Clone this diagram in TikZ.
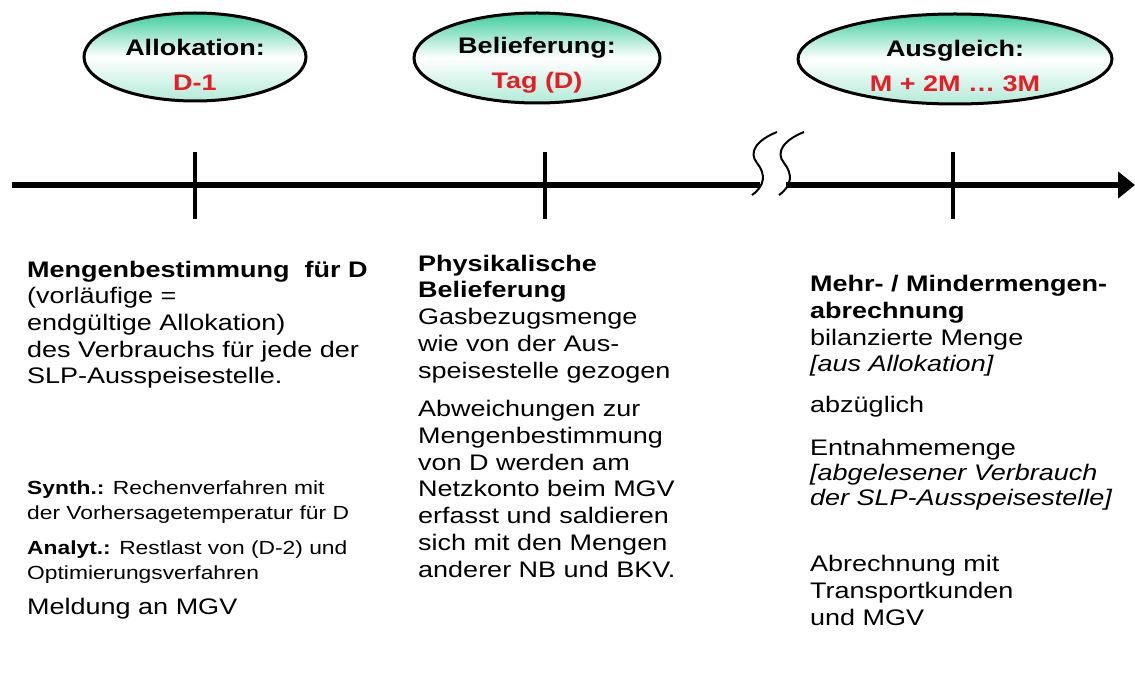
\documentclass[tikz,border=0pt]{standalone}
\usepackage{fontspec}
\setmainfont{Liberation Sans}[FakeStretch=1.2]
\usetikzlibrary{shapes.geometric,arrows.meta}
\definecolor{mint}{RGB}{60,205,155}
\definecolor{hred}{RGB}{232,28,36}
\begin{document}
\begin{tikzpicture}[x=1pt,y=-1pt,
  phase/.style={ellipse, draw=black, line width=3pt, inner sep=0pt,
    top color=mint, bottom color=mint!40, middle color=white},
  phasetext/.style={align=center, inner sep=0pt, font=\fontsize{22.5}{35}\selectfont\bfseries},
  para/.style={anchor=base west, align=left, inner sep=0pt, font=\fontsize{22.5}{26.7}\selectfont},
  small/.style={anchor=base west, align=left, inner sep=0pt, font=\fontsize{19}{25}\selectfont},
  axisline/.style={line width=6pt},
  tickline/.style={line width=3.5pt},
  brk/.style={line width=2pt}]
\useasboundingbox (0,0) rectangle (1135,700);

% phases
\node[phase, minimum width=222pt, minimum height=88pt] (allok) at (195,57) {};
\node[phasetext] (allokT) at (195,65) {Allokation:\\\textcolor{hred}{D-1}};
\node[phase, minimum width=246pt, minimum height=90pt] (belief) at (537,58) {};
\node[phasetext] (beliefT) at (537,65) {Belieferung:\\\textcolor{hred}{Tag (D)}};
\node[phase, minimum width=314pt, minimum height=90pt] (ausgl) at (955,59) {};
\node[phasetext] (ausglT) at (955,66) {Ausgleich:\\\textcolor{hred}{M + 2M \dots\ 3M}};

% timeline
\coordinate (L) at (12,185);
\coordinate (B1) at (760,185);
\coordinate (B2) at (786,185);
\coordinate (R) at (1135,185);
\draw[axisline] (L) -- (B1);
\draw[axisline,-{Triangle[length=17pt,width=26pt]}] (B2) -- (R);

% break marks
\draw[brk] (777,132) .. controls (757,140) and (748,152) .. (757,163)
  .. controls (766,174) and (765,186) .. (752,195);
\draw[brk] (804,132) .. controls (784,140) and (775,152) .. (784,163)
  .. controls (793,174) and (792,186) .. (779,195);

% ticks
\coordinate (t1a) at (195,152); \coordinate (t1b) at (195,219);
\coordinate (t2a) at (545,152); \coordinate (t2b) at (545,219);
\coordinate (t3a) at (953,152); \coordinate (t3b) at (953,219);
\draw[tickline] (t1a) -- (t1b);
\draw[tickline] (t2a) -- (t2b);
\draw[tickline] (t3a) -- (t3b);

% column 1 (anchor = baseline of the last line)
\node[para] (c1a) at (27,384) {\textbf{Mengenbestimmung\ \ für D}\\(vorläufige =\\endgültige Allokation)\\des Verbrauchs für jede der\\SLP-Ausspeisestelle.};
\node[small] (c1b) at (27,519) {\textbf{Synth.:} Rechenverfahren mit\\der Vorhersagetemperatur für D};
\node[small] (c1c) at (27,579) {\textbf{Analyt.:} Restlast von (D-2) und\\Optimierungsverfahren};
\node[para] (c1d) at (27,614) {Meldung an MGV};

% column 2
\node[para] (c2a) at (418,378) {\textbf{Physikalische}\\\textbf{Belieferung}\\Gasbezugsmenge\\wie von der Aus-\\speisestelle gezogen};
\node[para] (c2b) at (418,577) {Abweichungen zur\\Mengenbestimmung\\von D werden am\\Netzkonto beim MGV\\erfasst und saldieren\\sich mit den Mengen\\anderer NB und BKV.};

% column 3
\node[para] (c3a) at (810,372) {\textbf{Mehr- / Mindermengen-}\\\textbf{abrechnung}\\bilanzierte Menge\\\textit{[aus Allokation]}};
\node[para] (c3b) at (810,412) {abzüglich};
\node[small, font=\fontsize{22.5}{25}\selectfont] (c3c) at (810,505) {Entnahmemenge\\\textit{[abgelesener Verbrauch}\\\textit{der SLP-Ausspeisestelle]}};
\node[para] (c3d) at (810,625) {Abrechnung mit\\Transportkunden\\und MGV};
\end{tikzpicture}
\end{document}
